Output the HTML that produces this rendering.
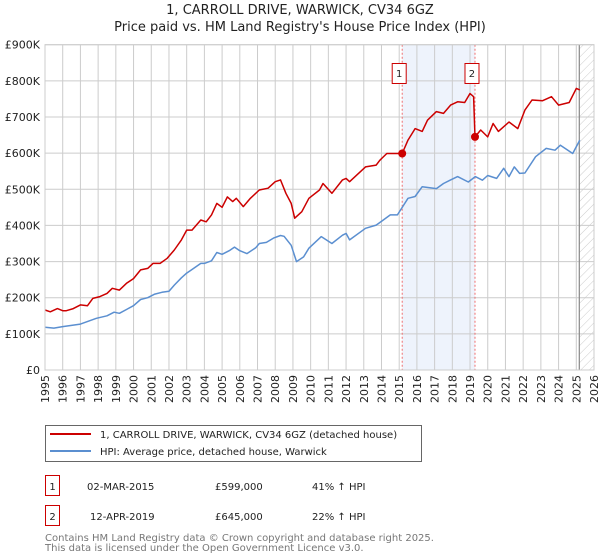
<!DOCTYPE html>
<html><head><meta charset="utf-8"><style>
body{margin:0;background:#fff;font-family:"DejaVu Sans","Liberation Sans",sans-serif;}
svg{display:block}
</style></head><body>
<svg id="c" width="600" height="560" xmlns="http://www.w3.org/2000/svg">
<defs><pattern id="hatch" width="6" height="6" patternUnits="userSpaceOnUse" patternTransform="rotate(45)"><line x1="0" y1="0" x2="0" y2="6" stroke="#ccc" stroke-width="1"/></pattern></defs>
<text x="300" y="14" text-anchor="middle" font-size="13" fill="#222">1, CARROLL DRIVE, WARWICK, CV34 6GZ</text>
<text x="300" y="31" text-anchor="middle" font-size="13" fill="#222">Price paid vs. HM Land Registry's House Price Index (HPI)</text>
<g id="plot"></g>
<g>
<rect x="45.5" y="425.5" width="376" height="36" fill="#fff" stroke="#666"/>
<line x1="50" y1="434" x2="91" y2="434" stroke="#cc0000" stroke-width="2"/>
<text x="100" y="438" font-size="10" fill="#222">1, CARROLL DRIVE, WARWICK, CV34 6GZ (detached house)</text>
<line x1="50" y1="451" x2="91" y2="451" stroke="#5b8fd0" stroke-width="2"/>
<text x="100" y="455" font-size="10" fill="#222">HPI: Average price, detached house, Warwick</text>
</g>
<g font-size="10" fill="#222">
<rect x="45.5" y="475.5" width="14" height="20" fill="#fff" stroke="#cc0000"/>
<text x="52.5" y="490" text-anchor="middle">1</text>
<text x="87" y="490">02-MAR-2015</text><text x="215" y="490">£599,000</text><text x="312" y="490">41% ↑ HPI</text>
<rect x="45.5" y="505.5" width="14" height="20" fill="#fff" stroke="#cc0000"/>
<text x="52.5" y="520" text-anchor="middle">2</text>
<text x="90" y="520">12-APR-2019</text><text x="215" y="520">£645,000</text><text x="312" y="520">22% ↑ HPI</text>
</g>
<text x="45" y="541" font-size="10" fill="#777">Contains HM Land Registry data © Crown copyright and database right 2025.</text>
<text x="45" y="551" font-size="10" fill="#777">This data is licensed under the Open Government Licence v3.0.</text>
</svg>
<script>
const hpiYears=[1995,1995.5,1996,1997,1997.9,1998.5,1998.9,1999.2,2000,2000.4,2000.8,2001.2,2001.6,2002,2002.3,2002.7,2003,2003.3,2003.8,2004,2004.4,2004.7,2005,2005.4,2005.7,2006,2006.4,2006.9,2007.1,2007.5,2007.9,2008.3,2008.5,2008.9,2009.2,2009.6,2009.9,2010.6,2011.2,2011.8,2012,2012.2,2013.1,2013.7,2014.1,2014.5,2014.9,2015.2,2015.5,2015.9,2016.3,2017.1,2017.5,2017.9,2018.3,2018.9,2019.3,2019.7,2020,2020.5,2020.9,2021.2,2021.5,2021.8,2022.1,2022.7,2023.3,2023.8,2024.1,2024.8,2025.2];
const hpiValues=[118,116,120,127,143,150,160,157,178,195,200,210,215,218,235,255,268,278,295,295,302,325,320,330,340,330,322,338,350,353,365,372,370,345,300,313,337,369,350,373,378,360,392,401,415,429,429,452,475,480,507,502,516,526,535,520,535,525,538,530,558,535,562,544,545,590,613,608,622,599,636];
const priceYears=[1995,1995.3,1995.7,1996,1996.2,1996.6,1997,1997.4,1997.7,1998.1,1998.5,1998.8,1999.2,1999.6,2000,2000.4,2000.8,2001.1,2001.5,2001.9,2002.3,2002.7,2003,2003.3,2003.8,2004.1,2004.4,2004.7,2005,2005.3,2005.6,2005.8,2006.2,2006.6,2007.1,2007.6,2008,2008.3,2008.6,2008.9,2009.1,2009.5,2009.9,2010.5,2010.7,2011.2,2011.8,2012,2012.2,2013.1,2013.7,2013.9,2014.3,2014.7,2015.17,2015.5,2015.9,2016.3,2016.6,2017.1,2017.5,2017.9,2018.3,2018.7,2019.0,2019.2,2019.28,2019.6,2020,2020.3,2020.6,2021.2,2021.7,2022.1,2022.5,2023.1,2023.6,2024,2024.6,2025.0,2025.2];
const priceValues=[166,161,170,164,164,170,180,178,198,203,212,226,221,240,253,277,281,295,295,309,332,360,387,387,415,410,429,461,450,479,466,475,452,475,498,503,521,526,489,461,420,438,475,498,516,489,526,530,521,562,567,580,599,599,599,636,668,660,691,715,710,733,742,740,765,756,645,664,645,682,660,686,668,719,747,745,756,733,740,779,775];
const ticksY=[0,100,200,300,400,500,600,700,800,900];
const tickLabelsY=["£0","£100K","£200K","£300K","£400K","£500K","£600K","£700K","£800K","£900K"];
const sales=[{n:"1",year:2015.17,value:599},{n:"2",year:2019.28,value:645}];
const X0=45,X1=594,Y0=370,Y1=44.7,yr0=1995,yr1=2026;
const x=y=>X0+(y-yr0)/(yr1-yr0)*(X1-X0);
const yv=v=>Y0-v/900*(Y0-Y1);
const NS="http://www.w3.org/2000/svg";
const g=document.getElementById('plot');
function mk(t,a){const e=document.createElementNS(NS,t);for(const k in a)e.setAttribute(k,a[k]);g.appendChild(e);return e;}
let r=mk('rect',{x:x(sales[0].year),y:Y1,width:x(sales[1].year)-x(sales[0].year),height:Y0-Y1,fill:'#eef3fc'});


let h=mk('rect',{x:x(2025.17),y:Y1,width:X1-x(2025.17),height:Y0-Y1,fill:'url(#hatch)'});


for(let yr=yr0;yr<=yr1;yr++){
 let l=mk('line',{x1:x(yr),x2:x(yr),y1:Y1,y2:Y0,stroke:'#ccc','stroke-width':1});
 
 
 let t=mk('text',{x:0,y:0,'font-size':'11',fill:'#222','text-anchor':'end',transform:`translate(${x(yr)+4},375) rotate(-90)`});
 
 
 t.textContent=yr;
}
ticksY.forEach((v,i)=>{
 let l=mk('line',{x1:X0,x2:X1,y1:yv(v),y2:yv(v),stroke:'#ccc','stroke-width':1});
 
 
 let t=mk('text',{x:X0-5,y:yv(v)+4,'font-size':'11',fill:'#222','text-anchor':'end'});
 
 
 t.textContent=tickLabelsY[i];
});
let nl=mk('line',{x1:x(2025.17),x2:x(2025.17),y1:Y1,y2:Y0,stroke:'#888','stroke-width':1.2});


sales.forEach(s=>{
 let l=mk('line',{x1:x(s.year),x2:x(s.year),y1:Y1,y2:Y0,stroke:'#f07070','stroke-width':1,'stroke-dasharray':'2,2'});
 
 
});
function path(xs,vs,c,name){
 let d=xs.map((yr,i)=>(i?'L':'M')+x(yr).toFixed(1)+','+yv(vs[i]).toFixed(1)).join('');
 let p=mk('path',{d:d,fill:'none',stroke:c,'stroke-width':1.5,'stroke-linejoin':'round'});
 
 
}
path(hpiYears,hpiValues,'#5b8fd0','hpi-line');
path(priceYears,priceValues,'#cc0000','price-line');
sales.forEach(s=>{
 let c=mk('circle',{cx:x(s.year),cy:yv(s.value),r:4,fill:'#cc0000'});
 
 
 let b=mk('rect',{x:x(s.year)-10,y:63.5,width:14,height:20,fill:'#fff',stroke:'#cc0000'});
 
 
 let t=mk('text',{x:x(s.year)-3,y:77,'font-size':'10',fill:'#222','text-anchor':'middle'});
 
 
 t.textContent=s.n;
});
let br=mk('rect',{x:X0,y:Y1,width:X1-X0,height:Y0-Y1,fill:'none',stroke:'#ccc'});


</script>
</body></html>
